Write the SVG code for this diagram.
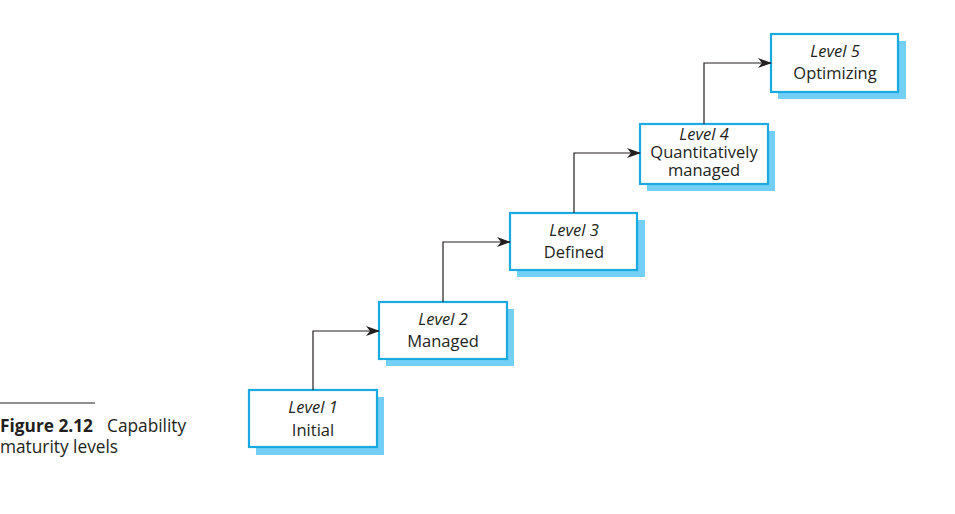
<svg xmlns="http://www.w3.org/2000/svg" width="955" height="514" viewBox="0 0 955 514">
<style>
.shadow{fill:#73cff5;}
.box{fill:#ffffff;stroke:#1aa9e0;stroke-width:2.2;}
.t{font-family:"Open Sans","Liberation Sans",sans-serif;font-size:16.5px;fill:#231f20;text-anchor:middle;}
.it{font-style:italic;}
.conn{fill:none;stroke:#231f20;stroke-width:1.2;}
.cap{font-family:"Open Sans","Liberation Sans",sans-serif;font-size:17.3px;fill:#231f20;}
</style>
<defs>
<marker id="arr" markerWidth="14" markerHeight="10" refX="13" refY="5" orient="auto" markerUnits="userSpaceOnUse">
<path d="M0,0 L14,5 L0,10 L4,5 Z" fill="#231f20"/>
</marker>
</defs>
<rect width="955" height="514" fill="#ffffff"/>
<g id="level1">
<rect class="shadow" x="256" y="397" width="128" height="58"/>
<rect class="box" x="249" y="390" width="128" height="57"/>
<text class="t it" x="313" y="413">Level 1</text>
<text class="t" x="313" y="436">Initial</text>
</g>
<g id="level2">
<rect class="shadow" x="386" y="309" width="128" height="57"/>
<rect class="box" x="379" y="302" width="128" height="57"/>
<text class="t it" x="443" y="325">Level 2</text>
<text class="t" x="443" y="347">Managed</text>
</g>
<g id="level3">
<rect class="shadow" x="517" y="220" width="128" height="57"/>
<rect class="box" x="510" y="213" width="127" height="57"/>
<text class="t it" x="574" y="236">Level 3</text>
<text class="t" x="574" y="258">Defined</text>
</g>
<g id="level4">
<rect class="shadow" x="647" y="131" width="128" height="60"/>
<rect class="box" x="640" y="124" width="128" height="60"/>
<text class="t" x="704" y="140"><tspan class="it" x="704" y="140">Level 4</tspan><tspan x="704" y="158">Quantitatively</tspan><tspan x="704" y="176">managed</tspan></text>
</g>
<g id="level5">
<rect class="shadow" x="778" y="41" width="128" height="58"/>
<rect class="box" x="771" y="34" width="127" height="58"/>
<text class="t it" x="835" y="57">Level 5</text>
<text class="t" x="835" y="79">Optimizing</text>
</g>
<g id="connectors">
<path class="conn" d="M313,390 V331 H379" marker-end="url(#arr)"/>
<path class="conn" d="M443,302 V242 H510" marker-end="url(#arr)"/>
<path class="conn" d="M574,213 V153 H640" marker-end="url(#arr)"/>
<path class="conn" d="M704,124 V63 H771" marker-end="url(#arr)"/>
</g>
<g id="caption">
<line x1="0" y1="403" x2="95" y2="403" stroke="#231f20" stroke-width="1"/>
<text class="cap" x="0" y="432"><tspan font-weight="bold">Figure 2.12</tspan><tspan x="107">Capability</tspan></text>
<text class="cap" x="0" y="453">maturity levels</text>
</g>
</svg>
